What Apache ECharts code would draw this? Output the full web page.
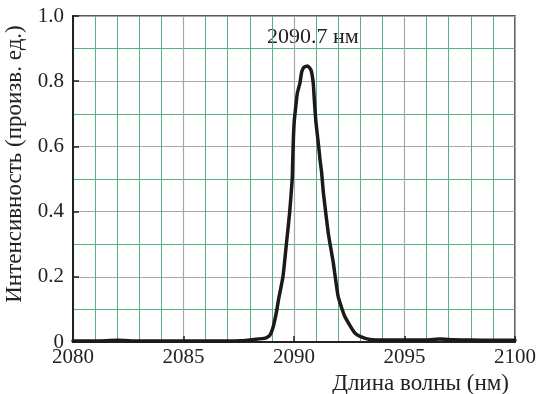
<!DOCTYPE html>
<html>
<head>
<meta charset="utf-8">
<script src="https://cdn.jsdelivr.net/npm/echarts@6/dist/echarts.min.js"></script>
<style>
  html, body { margin: 0; padding: 0; background: #fff; }
  #container { width: 538px; height: 394px; }
</style>
</head>
<body>
<div id="container"></div>
<script>
var dom = document.getElementById("container");
var myChart = echarts.init(dom, null, { renderer: "canvas" });

// spectrum
var wavelength = [2080, 2081, 2082, 2083, 2084, 2085, 2086, 2087, 2087.6, 2088.2, 2088.7, 2088.9,
    2089.06, 2089.2, 2089.3, 2089.5, 2089.67, 2089.8, 2089.92, 2089.94, 2089.97, 2090.01, 2090.08,
    2090.15, 2090.27, 2090.35, 2090.45, 2090.62, 2090.77, 2090.87, 2090.92, 2090.99, 2091.1,
    2091.18, 2091.25, 2091.33, 2091.55, 2091.78, 2092.0, 2092.3, 2092.76, 2093.1, 2093.44, 2094,
    2095, 2096, 2096.6, 2097.2, 2098, 2099, 2100];
var intensity = [0.003, 0.003, 0.005, 0.003, 0.003, 0.003, 0.003, 0.003, 0.004, 0.008, 0.012, 0.02,
    0.047, 0.09, 0.13, 0.2, 0.31, 0.395, 0.5, 0.55, 0.62, 0.676, 0.722,
    0.763, 0.795, 0.829, 0.843, 0.847, 0.834, 0.795, 0.742, 0.676, 0.61,
    0.558, 0.52, 0.457, 0.334, 0.242, 0.139, 0.078, 0.027, 0.014, 0.008, 0.006,
    0.006, 0.006, 0.009, 0.007, 0.006, 0.005, 0.005];
var xTicks = [2080, 2085, 2090, 2095, 2100];
var yTicks = [0, 0.2, 0.4, 0.6, 0.8, 1.0];
var peakLabel = "2090.7 нм";

var font = "Liberation Serif";
var green = "#55b27f";
var grey = "#a8a8a8";

var points = wavelength.map(function (w, i) { return [w, intensity[i]]; });

var option = {
    animation: false,
    textStyle: { fontFamily: font },
    grid: {
        left: 73,
        right: 23,
        top: 16,
        bottom: 52,
        containLabel: false,
        outerBoundsMode: "none",
        show: true,
        borderColor: "#222",
        borderWidth: 1.5
    },
    xAxis: {
        type: "value",
        min: xTicks[0],
        max: xTicks[xTicks.length - 1],
        interval: 5,
        name: "Длина волны (нм)",
        nameLocation: "end",
        nameGap: 0,
        nameTextStyle: {
            fontFamily: font, fontSize: 23, color: "#222",
            align: "right", verticalAlign: "top",
            padding: [30, 6, 0, 0]
        },
        axisLine: { lineStyle: { color: "#222", width: 2 } },
        axisTick: { inside: true, length: 6, lineStyle: { color: "#222", width: 1.5 } },
        axisLabel: {
            fontFamily: font, fontSize: 21, color: "#222", margin: 5,
            formatter: function (v) { return String(v); }
        },
        splitLine: { show: true, lineStyle: { color: grey, width: 1.2 } },
        minorTick: { show: false, splitNumber: 5 },
        minorSplitLine: { show: true, lineStyle: { color: green, width: 1 } }
    },
    yAxis: {
        type: "value",
        min: 0,
        max: 1,
        interval: 0.2,
        name: "Интенсивность (произв. ед.)",
        nameLocation: "middle",
        nameGap: 43,
        nameRotate: 90,
        nameTextStyle: { fontFamily: font, fontSize: 23, color: "#222", padding: [0, 0, 0, 30] },
        axisLine: { show: true, lineStyle: { color: "#222", width: 2 } },
        axisTick: { show: true, inside: true, length: 6, lineStyle: { color: "#222", width: 1.5 } },
        axisLabel: {
            fontFamily: font, fontSize: 21, color: "#222", margin: 9,
            formatter: function (v) { return v === 0 ? "0" : v.toFixed(1); }
        },
        splitLine: { show: true, lineStyle: { color: grey, width: 1.2 } },
        minorTick: { show: false, splitNumber: 2 },
        minorSplitLine: { show: true, lineStyle: { color: green, width: 1 } }
    },
    series: [{
        type: "line",
        data: points,
        showSymbol: false,
        smooth: 0.15,
        lineStyle: { color: "#1a1a1a", width: 3.5, join: "round", cap: "round" },
        z: 5
    }],
    graphic: [{
        type: "text",
        left: 267,
        top: 26,
        style: { text: peakLabel, font: "22px '" + font + "'", fill: "#222" }
    }]
};

myChart.setOption(option);
window.addEventListener("resize", myChart.resize);
</script>
</body>
</html>
